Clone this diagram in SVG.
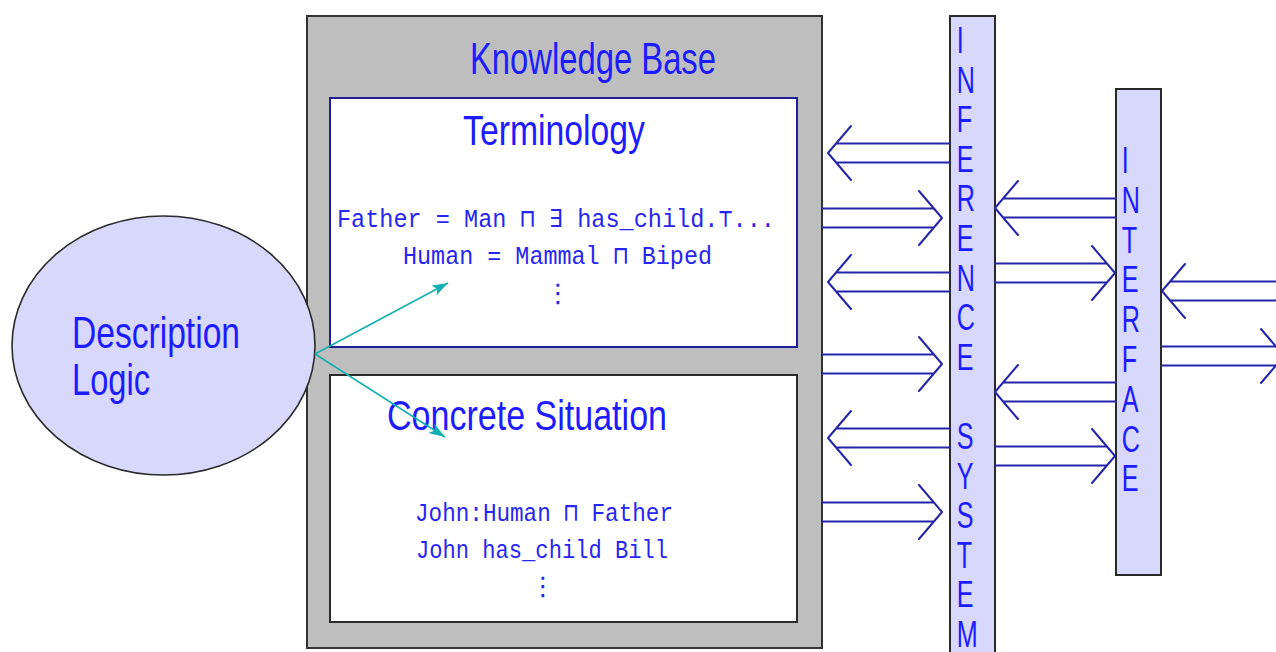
<svg xmlns="http://www.w3.org/2000/svg" width="1276" height="652" viewBox="0 0 1276 652">
  <defs>
    <style>
      .title { font-family: "Liberation Sans", "DejaVu Sans", sans-serif; fill: #1c1cff; }
      .mono { font-family: "Liberation Mono", "DejaVu Sans Mono", monospace; font-size: 25px; fill: #2626f0; }
      .dots { font-family: "DejaVu Sans", sans-serif; font-size: 26px; fill: #2626f0; text-anchor: middle; }
      .bar { fill: #d8d8fc; stroke: #2a2a2a; stroke-width: 2; }
      .barText { font-family: "Liberation Sans", "DejaVu Sans", sans-serif; font-size: 37px; fill: #1c1cff; }
      .dbl { fill: none; stroke: #2424a8; stroke-width: 2; stroke-linecap: round; stroke-linejoin: round; }
      .link { fill: none; stroke: #14b0b0; stroke-width: 1.6; }
    </style>
    <marker id="tealHead" markerUnits="userSpaceOnUse" markerWidth="17" markerHeight="11" refX="16" refY="5.5" orient="auto">
      <path d="M0,0 L16,5.5 L0,11 L4,5.5 z" fill="#14b0b0"/>
    </marker>
  </defs>

  <rect width="1276" height="652" fill="#ffffff"/>

  <!-- knowledge base container -->
  <g id="knowledge-base">
    <rect x="307" y="16" width="515" height="632" fill="#bebebe" stroke="#333333" stroke-width="2"/>
    <text class="title" x="470" y="74" font-size="44" textLength="246" lengthAdjust="spacingAndGlyphs">Knowledge Base</text>
  </g>

  <g id="terminology">
    <rect x="330" y="98" width="467" height="249" fill="#ffffff" stroke="#1e1e96" stroke-width="2"/>
    <text class="title" x="463" y="145" font-size="42" textLength="182" lengthAdjust="spacingAndGlyphs">Terminology</text>
    <text class="mono" x="337" y="227" textLength="438" lengthAdjust="spacingAndGlyphs">Father = Man ⊓ ∃ has_child.⊤...</text>
    <text class="mono" x="403" y="264" textLength="309" lengthAdjust="spacingAndGlyphs">Human = Mammal ⊓ Biped</text>
    <text class="dots" x="558" y="302">⋮</text>
  </g>

  <g id="concrete-situation">
    <rect x="330" y="375" width="467" height="247" fill="#ffffff" stroke="#2a2a2a" stroke-width="2"/>
    <text class="title" x="387" y="430" font-size="42" textLength="280" lengthAdjust="spacingAndGlyphs">Concrete Situation</text>
    <text class="mono" x="415" y="521" textLength="258" lengthAdjust="spacingAndGlyphs">John:Human ⊓ Father</text>
    <text class="mono" x="416" y="558" textLength="252" lengthAdjust="spacingAndGlyphs">John has_child Bill</text>
    <text class="dots" x="543" y="595">⋮</text>
  </g>

  <g id="description-logic">
    <ellipse cx="163.5" cy="345.5" rx="151.5" ry="129.5" fill="#d8d8fc" stroke="#2a2a2a" stroke-width="1.6"/>
    <text class="title" x="72" y="348" font-size="44" textLength="168" lengthAdjust="spacingAndGlyphs">Description</text>
    <text class="title" x="72" y="395" font-size="44" textLength="78" lengthAdjust="spacingAndGlyphs">Logic</text>
  </g>

  <g id="inference-system">
    <rect class="bar" x="950" y="16" width="45" height="645"/>
    <text class="barText" transform="translate(958,0) scale(0.68,1)">
      <tspan x="-2" y="53">I</tspan>
      <tspan x="-2" y="92.6">N</tspan>
      <tspan x="-2" y="132.2">F</tspan>
      <tspan x="-2" y="171.8">E</tspan>
      <tspan x="-2" y="211.4">R</tspan>
      <tspan x="-2" y="251">E</tspan>
      <tspan x="-2" y="290.6">N</tspan>
      <tspan x="-2" y="330.2">C</tspan>
      <tspan x="-2" y="369.8">E</tspan>
      <tspan x="-2" y="449">S</tspan>
      <tspan x="-2" y="488.6">Y</tspan>
      <tspan x="-2" y="528.2">S</tspan>
      <tspan x="-2" y="567.8">T</tspan>
      <tspan x="-2" y="607.4">E</tspan>
      <tspan x="-2" y="647">M</tspan>
    </text>
  </g>

  <g id="interface">
    <rect class="bar" x="1116" y="89" width="45" height="486"/>
    <text class="barText" transform="translate(1123,0) scale(0.68,1)">
      <tspan x="-2" y="173">I</tspan>
      <tspan x="-2" y="212.8">N</tspan>
      <tspan x="-2" y="252.6">T</tspan>
      <tspan x="-2" y="292.4">E</tspan>
      <tspan x="-2" y="332.2">R</tspan>
      <tspan x="-2" y="372">F</tspan>
      <tspan x="-2" y="411.8">A</tspan>
      <tspan x="-2" y="451.6">C</tspan>
      <tspan x="-2" y="491.4">E</tspan>
    </text>
  </g>

  <g id="connectors">
    <!-- description logic feeds both parts of the knowledge base -->
    <path class="link" d="M315,354 L448,283" marker-end="url(#tealHead)"/>
    <path class="link" d="M315,354 L445,437" marker-end="url(#tealHead)"/>

    <!-- knowledge base <-> inference system -->
    <path class="dbl" d="M950,143.5H836M950,162.5H836M851,126L828,153L851,180"/>
    <path class="dbl" d="M822,208.5H934M822,227.5H934M919,191L942,218L919,245"/>
    <path class="dbl" d="M950,272.5H836M950,291.5H836M851,255L828,282L851,309"/>
    <path class="dbl" d="M822,354.5H934M822,373.5H934M919,337L942,364L919,391"/>
    <path class="dbl" d="M950,428.5H836M950,447.5H836M851,411L828,438L851,465"/>
    <path class="dbl" d="M822,502.5H934M822,521.5H934M919,485L942,512L919,539"/>

    <!-- inference system <-> interface -->
    <path class="dbl" d="M1116,198.5H1003M1116,217.5H1003M1018,181L995,208L1018,235"/>
    <path class="dbl" d="M995,263.5H1107M995,282.5H1107M1092,246L1115,273L1092,300"/>
    <path class="dbl" d="M1116,382.5H1003M1116,401.5H1003M1018,365L995,392L1018,419"/>
    <path class="dbl" d="M995,446.5H1107M995,465.5H1107M1092,429L1115,456L1092,483"/>

    <!-- interface <-> outside -->
    <path class="dbl" d="M1280,281.5H1170M1280,300.5H1170M1185,264L1162,291L1185,318"/>
    <path class="dbl" d="M1162,346.5H1276M1162,365.5H1276M1261,329L1284,356L1261,383"/>
  </g>
</svg>
